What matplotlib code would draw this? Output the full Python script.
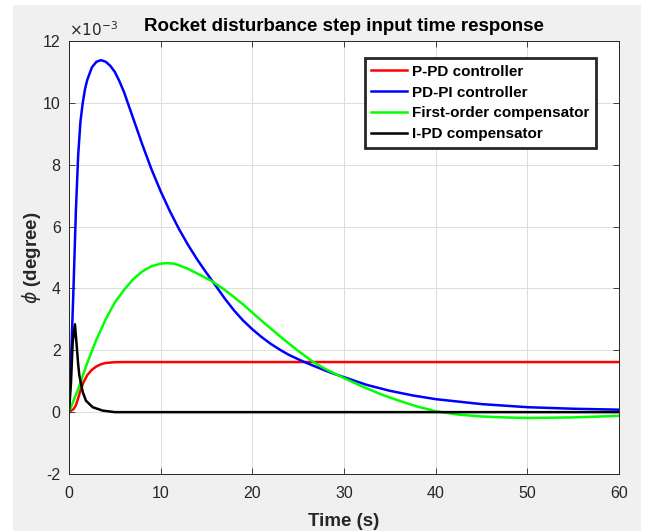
import numpy as np
import matplotlib
matplotlib.use("Agg")
import matplotlib.pyplot as plt
from matplotlib.patches import Rectangle

# ── data (phi in units of 1e-3 degree) ─────────────────────────────────────
t_ppd = [0, 0.5, 0.75, 1.0, 1.3, 1.6, 2.0, 2.5, 3.0, 3.5, 4.0, 5.0, 6.0, 60]
phi_ppd = [0, 0.1, 0.22, 0.45, 0.75, 0.98, 1.2, 1.37, 1.48, 1.55, 1.59, 1.615, 1.62, 1.62]

t_pdpi = [0, 0.25, 0.5, 0.75, 1.0, 1.25, 1.5, 1.75, 2.0, 2.5, 3.0, 3.5, 4.0,
          4.5, 5.0, 5.5, 6.0, 7.0, 8.0, 9.0, 10.0, 11.0, 12.0, 13.0, 14.0,
          15.0, 16.0, 17.0, 18.0, 19.0, 20.0, 21.0, 22.0, 23.0, 24.0, 25.0,
          26.0, 27.0, 28.0, 29.0, 30.0, 32.5, 35.0, 37.5, 40.0, 45.0, 50.0,
          55.0, 60.0]
phi_pdpi = [0, 1.9, 4.1, 6.5, 8.3, 9.4, 10.0, 10.45, 10.75, 11.15, 11.33, 11.38,
            11.33, 11.2, 11.0, 10.7, 10.35, 9.5, 8.65, 7.85, 7.14, 6.5, 5.92,
            5.4, 4.93, 4.5, 4.09, 3.67, 3.29, 2.96, 2.68, 2.43, 2.21, 2.02,
            1.85, 1.71, 1.58, 1.46, 1.34, 1.23, 1.13, 0.88, 0.69, 0.54, 0.42,
            0.26, 0.16, 0.11, 0.08]

t_first = [0, 1, 2, 3, 4, 5, 6, 7, 8, 9, 10, 10.7, 11.4, 12, 13, 14, 15.56, 17,
           18, 19, 20, 21.5, 23.35, 25, 26.6, 28, 30, 32, 34, 36, 38, 40, 42.5,
           45, 47.5, 50, 55, 60]
phi_first = [0, 0.75, 1.6, 2.35, 3.0, 3.55, 3.95, 4.3, 4.55, 4.72, 4.8, 4.82,
             4.8, 4.75, 4.63, 4.48, 4.24, 3.95, 3.72, 3.48, 3.22, 2.83, 2.37,
             1.98, 1.63, 1.39, 1.1, 0.83, 0.58, 0.37, 0.18, 0.03, -0.08, -0.14,
             -0.17, -0.19, -0.17, -0.12]

t_ipd = [0, 0.22, 0.4, 0.65, 0.8, 1.0, 1.13, 1.5, 1.85, 2.58, 3.67, 5.0, 60]
phi_ipd = [0, 0.97, 2.25, 2.84, 2.3, 1.55, 1.18, 0.65, 0.37, 0.16, 0.05, 0.0, 0.0]

x_ticks = [0, 10, 20, 30, 40, 50, 60]
y_ticks = [-2, 0, 2, 4, 6, 8, 10, 12]

# ── figure ─────────────────────────────────────────────────────────────────
plt.rcParams["font.family"] = ["Liberation Sans", "DejaVu Sans"]
plt.rcParams["axes.unicode_minus"] = False
dark = "#262626"

fig = plt.figure(figsize=(6.46, 5.31), dpi=100, facecolor="white")
bg = Rectangle((13 / 646, 0), (641 - 13) / 646, (531 - 5) / 531,
               transform=fig.transFigure, facecolor="#f0f0f0",
               edgecolor="none", zorder=-10)
fig.patches.append(bg)

ax = fig.add_axes([69 / 646, 57 / 531, 550 / 646, 433 / 531])
ax.set_facecolor("white")

lw = 1.8
ax.plot(t_ppd, phi_ppd, color=(1, 0, 0), lw=lw, label="P-PD controller")
ax.plot(t_pdpi, phi_pdpi, color=(0, 0, 1), lw=lw, label="PD-PI controller")
ax.plot(t_first, phi_first, color=(0, 1, 0), lw=lw, label="First-order compensator")
ax.plot(t_ipd, phi_ipd, color="black", lw=lw, label="I-PD compensator")

ax.set_xlim(0, 60)
ax.set_ylim(-2, 12)
ax.set_xticks(x_ticks)
ax.set_yticks(y_ticks)
ax.grid(True, color="#dcdcdc", lw=0.7)
ax.set_axisbelow(True)
ax.tick_params(direction="in", length=4, width=0.6, colors=dark, labelsize=11.5,
               top=True, right=True)
ax.tick_params(axis="x", pad=9)
ax.tick_params(axis="y", pad=6)
for s in ax.spines.values():
    s.set_color(dark)
    s.set_linewidth(0.7)

ax.text(0.0, 1.005, r"$\times10^{-3}$", transform=ax.transAxes, fontsize=11,
        color=dark, ha="left", va="bottom")

ax.set_title("Rocket disturbance step input time response", fontsize=13.5,
             fontweight="bold", color="black", pad=7)
ax.set_xlabel("Time (s)", fontsize=13.5, fontweight="bold", color=dark, labelpad=8)
ax.set_ylabel(r"$\phi$ (degree)", fontsize=13.5, fontweight="bold", color=dark,
              labelpad=0)

leg = ax.legend(loc="upper left", bbox_to_anchor=(0.538, 0.96), borderaxespad=0,
                fancybox=False, framealpha=1, edgecolor=dark, handlelength=2.35,
                prop={"weight": "bold", "size": 11}, labelspacing=0.45,
                borderpad=0.42, handletextpad=0.33)
leg.get_frame().set_linewidth(2)

fig.savefig("out.png", dpi=100, facecolor=fig.get_facecolor())
